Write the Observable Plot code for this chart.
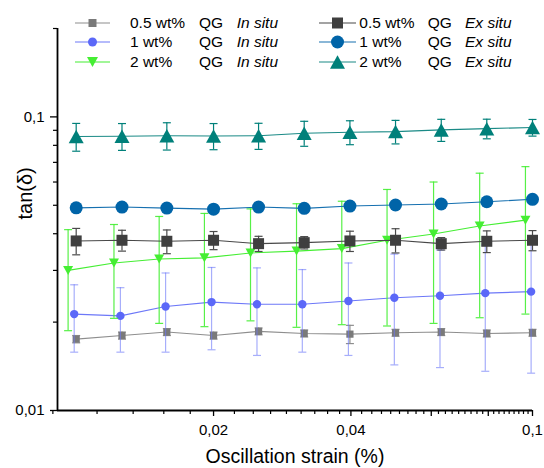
<!DOCTYPE html>
<html><head><meta charset="utf-8">
<script src="https://cdn.jsdelivr.net/npm/d3@7"></script>
<script src="https://cdn.jsdelivr.net/npm/@observablehq/plot@0.6"></script>
<style>
body{margin:0;background:#fff;font-family:"Liberation Sans",Arial,sans-serif;}
#wrap{position:relative;width:544px;height:468px;overflow:hidden;}
#legend{position:absolute;left:0;top:0;width:544px;height:80px;font-size:15.5px;color:#000;}
.it{position:absolute;height:20px;line-height:20px;white-space:nowrap;}
.sw{position:absolute;}
</style></head><body><div id="wrap"><div id="legend"></div></div>
<script>
// ---- data ----
const strain      = [0.01, 0.0126, 0.0158, 0.02, 0.0251, 0.0316, 0.0398, 0.0501, 0.0631, 0.0794, 0.1];
const strainBlue  = [0.0099, 0.0125, 0.0157, 0.0198, 0.0249, 0.0313, 0.0395, 0.0498, 0.0627, 0.0788, 0.0993];
const strainGreen = [0.0096, 0.0121, 0.0152, 0.0191, 0.0241, 0.0304, 0.0382, 0.0480, 0.0607, 0.0766, 0.0965];

const inSitu05    = [0.0175, 0.0180, 0.0185, 0.0180, 0.0186, 0.0183, 0.0182, 0.0184, 0.0185, 0.0183, 0.0184];
const inSitu05Err = [0.0005, 0.0005, 0.0005, 0.0005, 0.0005, 0.0005, 0.0013, 0.0005, 0.0005, 0.0005, 0.0005];
const inSitu1     = [0.0213, 0.0210, 0.0226, 0.0234, 0.0230, 0.0230, 0.0236, 0.0242, 0.0246, 0.0251, 0.0254];
const inSitu1Err  = [0.0055, 0.0052, 0.0068, 0.0073, 0.0076, 0.0072, 0.0082, 0.0099, 0.0106, 0.0115, 0.0120];
const inSitu2     = [0.0300, 0.0318, 0.0328, 0.0331, 0.0344, 0.0349, 0.0356, 0.0380, 0.0399, 0.0425, 0.0445];
const inSitu2Err  = [0.0113, 0.0112, 0.0130, 0.0138, 0.0142, 0.0157, 0.0160, 0.0186, 0.0201, 0.0218, 0.0232];

const exSitu05    = [0.0378, 0.0380, 0.0377, 0.0380, 0.0370, 0.0373, 0.0378, 0.0380, 0.0370, 0.0377, 0.0380];
const exSitu05Err = [0.0039, 0.0031, 0.0035, 0.0027, 0.0022, 0.0018, 0.0030, 0.0036, 0.0018, 0.0032, 0.0030];
const exSitu1     = [0.0490, 0.0493, 0.0489, 0.0485, 0.0493, 0.0488, 0.0497, 0.0501, 0.0505, 0.0514, 0.0524];
const exSitu1Err  = [0.0015, 0.0015, 0.0015, 0.0015, 0.0015, 0.0015, 0.0015, 0.0015, 0.0015, 0.0015, 0.0015];
const exSitu2     = [0.0857, 0.0859, 0.0863, 0.0861, 0.0863, 0.0880, 0.0887, 0.0891, 0.0903, 0.0912, 0.0920];
const exSitu2Err  = [0.0093, 0.0090, 0.0092, 0.0088, 0.0088, 0.0086, 0.0083, 0.0082, 0.0078, 0.0070, 0.0060];

const concLabels   = ["0.5 wt%", "1 wt%", "2 wt%"];
const materialLabel = "QG";
const methodLabels = ["In situ", "Ex situ"];

const xDomain = [0.0091, 0.1];
const yDomain = [0.01, 0.2];
const xTicks = [0.02, 0.04, 0.06, 0.08, 0.1];
const xMinorTicks = [0.00889, 0.01111, 0.01333, 0.01556, 0.01778,
  0.02222, 0.02444, 0.02667, 0.02889, 0.03111, 0.03333, 0.03556, 0.03778,
  0.04222, 0.04444, 0.04667, 0.04889, 0.05111, 0.05333, 0.05556, 0.05778,
  0.06222, 0.06444, 0.06667, 0.06889, 0.07111, 0.07333, 0.07556, 0.07778,
  0.08222, 0.08444, 0.08667, 0.08889, 0.09111, 0.09333, 0.09556, 0.09778];
const yTicks = [0.01, 0.1];
const yMinorTicks = [0.02, 0.03, 0.04, 0.05, 0.06, 0.07, 0.08, 0.09, 0.2];

// ---- symbols ----
const sqSym = {draw(ctx, size){ const r = Math.sqrt(size/Math.PI); ctx.rect(-r, -r, 2*r, 2*r); }};
const circSym = d3.symbolCircle;
const triUp = {draw(ctx, size){ const a = Math.sqrt(size/Math.PI); ctx.moveTo(0, -0.9*a); ctx.lineTo(a, 0.9*a); ctx.lineTo(-a, 0.9*a); ctx.closePath(); }};
const triDown = {draw(ctx, size){ const a = Math.sqrt(size/Math.PI); ctx.moveTo(0, 0.9*a); ctx.lineTo(a, -0.9*a); ctx.lineTo(-a, -0.9*a); ctx.closePath(); }};
const capSym = {draw(ctx, size){ const r = Math.sqrt(size/Math.PI); ctx.moveTo(-r, 0); ctx.lineTo(r, 0); }};

const table = (xs, ys, es) => xs.map((x, i) => ({x, y: ys[i], lo: ys[i] - es[i], hi: ys[i] + es[i]}));

const series = [
  {data: table(strain, inSitu05, inSitu05Err),     color: "#7a7a7a", line: "#8e8e8e", err: "#8e8e8e", errOp: 1,   sym: sqSym,   r: 3.6, lr: 4,   conc: 0, method: 0},
  {data: table(strainBlue, inSitu1, inSitu1Err),   color: "#5b68f8", line: "#6d78f8", err: "#6d78f8", errOp: 0.6, sym: circSym, r: 4.2, lr: 4.5, conc: 1, method: 0},
  {data: table(strainGreen, inSitu2, inSitu2Err),  color: "#45ee33", line: "#45ee33", err: "#45ee33", errOp: 0.9, sym: triDown, r: 5,   lr: 5.5, conc: 2, method: 0},
  {data: table(strain, exSitu05, exSitu05Err),     color: "#3f3f3f", line: "#484848", err: "#4a4a4a", errOp: 1,   sym: sqSym,   r: 5.5, lr: 5.5, conc: 0, method: 1},
  {data: table(strain, exSitu1, exSitu1Err),       color: "#0064a8", line: "#1670b0", err: "#0064a8", errOp: 1,   sym: circSym, r: 6.5, lr: 6.5, conc: 1, method: 1},
  {data: table(strain, exSitu2, exSitu2Err),       color: "#00807a", line: "#1a8a86", err: "#00807a", errOp: 1,   sym: triUp,   r: 7.5, lr: 7.5, conc: 2, method: 1}
];

const fmt = d => String(d).replace(".", ",");

const marks = [];
for (const s of series) {
  marks.push(Plot.line(s.data, {x: "x", y: "y", stroke: s.line, strokeWidth: 1.1}));
  marks.push(Plot.ruleX(s.data, {x: "x", y1: "lo", y2: "hi", stroke: s.err, strokeOpacity: s.errOp, strokeWidth: 1.2}));
  marks.push(Plot.dot(s.data, {x: "x", y: "lo", symbol: capSym, r: 4, stroke: s.err, strokeOpacity: s.errOp, fill: "none", strokeWidth: 1.2}));
  marks.push(Plot.dot(s.data, {x: "x", y: "hi", symbol: capSym, r: 4, stroke: s.err, strokeOpacity: s.errOp, fill: "none", strokeWidth: 1.2}));
  marks.push(Plot.dot(s.data, {x: "x", y: "y", symbol: s.sym, r: s.r, fill: s.color, stroke: "none"}));
}

const chart = Plot.plot({
  width: 544, height: 468,
  marginLeft: 57, marginRight: 12, marginTop: 28, marginBottom: 58,
  style: {fontFamily: "'Liberation Sans', Arial, sans-serif", fontSize: "15px", background: "white", color: "black", overflow: "visible"},
  x: {type: "log", domain: xDomain},
  y: {type: "log", domain: yDomain},
  marks: [
    Plot.axisX(xMinorTicks, {anchor: "bottom", tickSize: 4, tickFormat: () => "", label: null, strokeWidth: 1.2}),
    Plot.axisX(xTicks, {anchor: "bottom", tickSize: 6, tickPadding: 8, tickFormat: fmt, label: null, fontSize: 15, strokeWidth: 1.3}),
    Plot.axisY(yMinorTicks, {anchor: "left", tickSize: 4, tickFormat: () => "", label: null, strokeWidth: 1.2}),
    Plot.axisY(yTicks, {anchor: "left", tickSize: 7, tickPadding: 6, tickFormat: fmt, label: null, fontSize: 15, strokeWidth: 1.3}),
    ...marks,
    Plot.ruleX([xDomain[0]], {stroke: "black", strokeWidth: 1.8}),
    Plot.ruleY([yDomain[0]], {stroke: "black", strokeWidth: 1.8}),
    Plot.text(["Oscillation strain (%)"], {frameAnchor: "bottom", dy: 46, lineAnchor: "middle", fontSize: 19.5, fill: "black"}),
    Plot.text(["tan(δ)"], {frameAnchor: "left", dx: -32, rotate: -90, lineAnchor: "middle", fontSize: 20, fill: "black"})
  ]
});
const wrap = document.getElementById("wrap");
wrap.insertBefore(chart, wrap.firstChild);

// ---- legend ----
const legend = document.getElementById("legend");
const cols = [
  {swX: 75, swW: 35, conc: 130, qg: 199, meth: 236.7},
  {swX: 319, swW: 37, conc: 359.3, qg: 427.7, meth: 465}
];
const rowY = [22.7, 42.3, 62.3];
for (const s of series) {
  const c = cols[s.method], cy = rowY[s.conc];
  const path = d3.symbol(s.sym, Math.PI * s.lr * s.lr)();
  const sw = document.createElement("div");
  sw.className = "sw";
  sw.style.left = c.swX + "px"; sw.style.top = (cy - 10) + "px";
  sw.innerHTML = `<svg width="${c.swW}" height="20"><line x1="0" x2="${c.swW}" y1="10" y2="10" stroke="${s.line}" stroke-width="1.2"/><path d="${path}" transform="translate(${c.swW/2},10)" fill="${s.color}"/></svg>`;
  legend.appendChild(sw);
  const mk = (txt, x, italic) => {
    const d = document.createElement("div");
    d.className = "it"; d.textContent = txt;
    d.style.left = x + "px"; d.style.top = (cy - 10) + "px";
    if (italic) d.style.fontStyle = "italic";
    legend.appendChild(d);
  };
  mk(concLabels[s.conc], c.conc, false);
  mk(materialLabel, c.qg, false);
  mk(methodLabels[s.method], c.meth, true);
}
chart.style.position = "absolute"; chart.style.left = "0"; chart.style.top = "0";
</script>
</body></html>
